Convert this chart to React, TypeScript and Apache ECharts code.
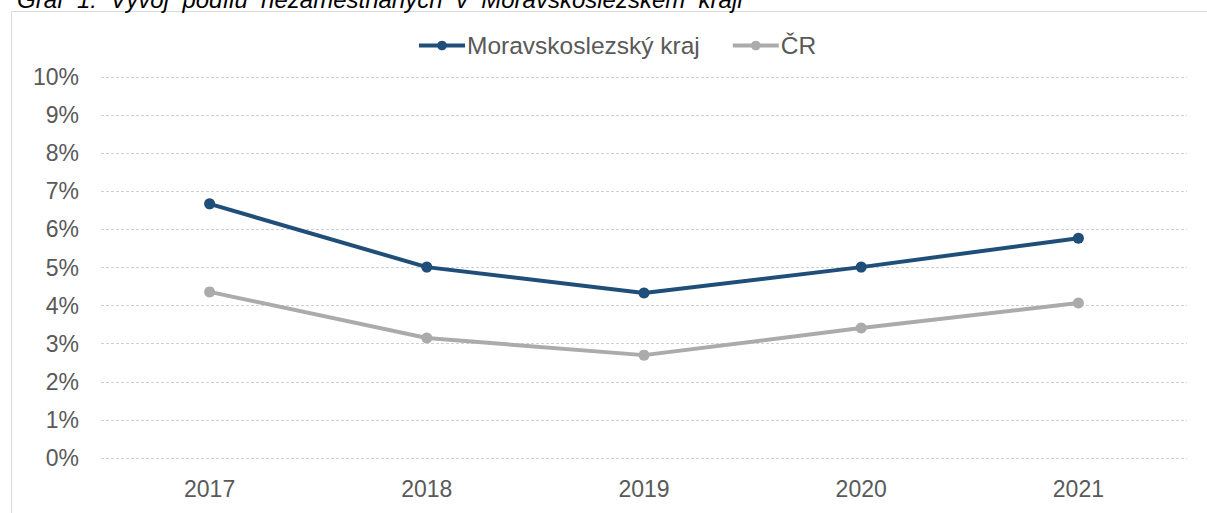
import React, { useEffect, useRef } from "react";
import * as echarts from "echarts";

const titleWords = ["Graf", "1:", "Vývoj", "podílu", "nezaměstnaných", "v", "Moravskoslezském", "kraji"];
const years = ["2017", "2018", "2019", "2020", "2021"];
const seriesNames = ["Moravskoslezský kraj", "ČR"];
const msk = [6.67, 5.01, 4.33, 5.01, 5.77];
const cr = [4.36, 3.15, 2.7, 3.41, 4.07];
const yTicks = [0, 1, 2, 3, 4, 5, 6, 7, 8, 9, 10];

const FONT = "Arial, 'Liberation Sans', sans-serif";

export default function App() {
  const ref = useRef<HTMLDivElement>(null);
  useEffect(() => {
    if (!ref.current) return;
    const chart = echarts.init(ref.current, undefined, { renderer: "svg" });
    chart.setOption({
      animation: false,
      backgroundColor: "#ffffff",
      textStyle: { fontFamily: FONT },
      graphic: [
        {
          type: "line",
          shape: { x1: 12, y1: 11.5, x2: 1207, y2: 11.5 },
          style: { stroke: "#D9D9D9", lineWidth: 1 },
          silent: true,
        },
        {
          type: "line",
          shape: { x1: 11.5, y1: 11.5, x2: 11.5, y2: 513 },
          style: { stroke: "#D9D9D9", lineWidth: 1 },
          silent: true,
        },
        {
          type: "text",
          x: 17,
          y: 11,
          style: {
            text: titleWords.join("  "),
            fontFamily: FONT,
            fontSize: 24,
            fontStyle: "italic",
            fill: "#000000",
            verticalAlign: "bottom",
            align: "left",
          },
          silent: true,
        },
      ],
      legend: {
        data: seriesNames,
        top: 28,
        left: 412,
        itemWidth: 46,
        itemHeight: 12,
        itemGap: 31,
        lineStyle: { width: 4 },
        textStyle: {
          fontFamily: FONT,
          fontSize: 24.5,
          color: "#595959",
          padding: [0, 0, 0, -3],
        },
      },
      grid: { left: 101, right: 20, top: 77, bottom: 55, containLabel: false },
      xAxis: {
        type: "category",
        data: years,
        boundaryGap: true,
        axisLine: { show: false },
        axisTick: { show: false },
        axisLabel: {
          fontFamily: FONT,
          fontSize: 23,
          color: "#595959",
          margin: 19,
        },
      },
      yAxis: {
        type: "value",
        min: yTicks[0],
        max: yTicks[yTicks.length - 1],
        interval: 1,
        axisLine: { show: false },
        axisTick: { show: false },
        axisLabel: {
          fontFamily: FONT,
          fontSize: 23,
          color: "#595959",
          margin: 22,
          formatter: (v: number) => `${v}%`,
        },
        splitLine: {
          show: true,
          lineStyle: { color: "#D0D0D0", width: 1, type: [3, 2] },
        },
      },
      series: [
        {
          name: seriesNames[0],
          type: "line",
          data: msk,
          symbol: "circle",
          symbolSize: 11,
          lineStyle: { color: "#1F4E79", width: 4 },
          itemStyle: { color: "#1F4E79" },
        },
        {
          name: seriesNames[1],
          type: "line",
          data: cr,
          symbol: "circle",
          symbolSize: 11,
          lineStyle: { color: "#ABABAB", width: 4 },
          itemStyle: { color: "#ABABAB" },
        },
      ],
    });
    return () => chart.dispose();
  }, []);
  return (
    <div
      ref={ref}
      style={{ position: "fixed", left: 0, top: 0, width: 1207, height: 513 }}
    />
  );
}
